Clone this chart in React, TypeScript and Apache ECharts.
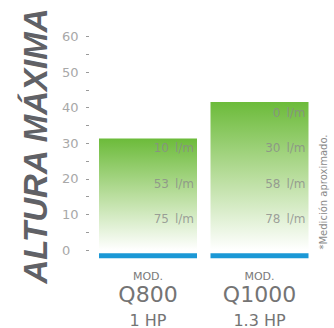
import React, { useEffect, useRef } from "react";
import * as echarts from "echarts";

const models = ["Q800", "Q1000"];
const powers = ["1 HP", "1.3 HP"];
const maxHeights = [31.3, 41.6];
const baseGap = [-0.9, -0.9];
const baseStrip = [-1.4, -1.4];
const flowHeights = [40, 30, 20, 10];
const flowQ800 = ["", "10 l/m", "53 l/m", "75 l/m"];
const flowQ1000 = ["0 l/m", "30 l/m", "58 l/m", "78 l/m"];
const yTicks = [0, 10, 20, 30, 40, 50, 60];

export default function App() {
  const ref = useRef<HTMLDivElement>(null);
  useEffect(() => {
    if (!ref.current) return;
    const chart = echarts.init(ref.current, undefined, { renderer: "svg" });
    const flowData: any[] = [];
    flowHeights.forEach((h, i) => {
      if (flowQ800[i]) flowData.push({ value: [0, h], name: flowQ800[i] });
      if (flowQ1000[i]) flowData.push({ value: [1, h], name: flowQ1000[i] });
    });
    const font = "DejaVu Sans";
    chart.setOption({
      animation: false,
      grid: { left: 92.25, right: 18.75, top: 36.5, bottom: 77.2 },
      xAxis: {
        type: "category",
        data: models,
        axisLine: { show: false },
        axisTick: { show: false },
        axisLabel: {
          margin: 20,
          interval: 0,
          formatter: (v: string, i: number) => `{m|MOD.}\n{q|${v}}\n{h|${powers[i]}}`,
          rich: {
            m: { fontFamily: font, fontSize: 11, lineHeight: 12, color: "#7a7a7a", align: "center" },
            q: { fontFamily: font, fontSize: 22, lineHeight: 24, color: "#747474", align: "center" },
            h: { fontFamily: font, fontSize: 16, lineHeight: 28, color: "#747474", align: "center" },
          },
        },
      },
      yAxis: {
        type: "value",
        min: 0,
        max: 60,
        interval: 5,
        offset: 3.25,
        splitLine: { show: false },
        axisLine: { show: false },
        axisTick: { show: true, length: 3, lineStyle: { color: "#9a9a9a", width: 1 } },
        axisLabel: {
          align: "left",
          margin: 27,
          fontFamily: font,
          fontSize: 13,
          color: "#a8a8a8",
          formatter: (v: number) => (yTicks.includes(v) ? String(v) : ""),
        },
      },
      series: [
        {
          type: "bar",
          data: maxHeights,
          barWidth: 98,
          barGap: "-100%",
          itemStyle: {
            color: new echarts.graphic.LinearGradient(0, 0, 0, 1, [
              { offset: 0, color: "#6cbb3a" },
              { offset: 0.5, color: "#b8dd9c" },
              { offset: 1, color: "#ffffff" },
            ]),
          },
        },
        {
          type: "bar",
          stack: "base",
          data: baseGap,
          barWidth: 98,
          barGap: "-100%",
          clip: false,
          itemStyle: { color: "rgba(0,0,0,0)" },
        },
        {
          type: "bar",
          stack: "base",
          data: baseStrip,
          barWidth: 98,
          barGap: "-100%",
          clip: false,
          itemStyle: { color: "#1b98d6" },
        },
        {
          type: "scatter",
          data: flowData,
          symbolSize: 0,
          label: {
            show: true,
            position: "inside",
            offset: [46, 5],
            align: "right",
            fontFamily: font,
            fontSize: 12,
            color: "#8a8a8a",
            formatter: (p: any) => p.name.replace(" ", "\u2002"),
          },
        },
      ],
      graphic: [
        {
          type: "text",
          x: 35,
          y: 146,
          rotation: Math.PI / 2,
          style: {
            text: "ALTURA MÁXIMA",
            fontFamily: "Liberation Sans",
            fontWeight: "bold",
            fontStyle: "italic",
            fontSize: 33,
            fill: "#606166",
            align: "center",
            verticalAlign: "middle",
          },
        },
        {
          type: "text",
          x: 323,
          y: 192,
          rotation: Math.PI / 2,
          style: {
            text: "*Medición aproximado.",
            fontFamily: font,
            fontSize: 10,
            fill: "#8a8a8a",
            align: "center",
            verticalAlign: "middle",
          },
        },
      ],
    });
    return () => chart.dispose();
  }, []);
  return <div ref={ref} style={{ width: 334, height: 328, position: "absolute", left: 0, top: 0 }} />;
}
